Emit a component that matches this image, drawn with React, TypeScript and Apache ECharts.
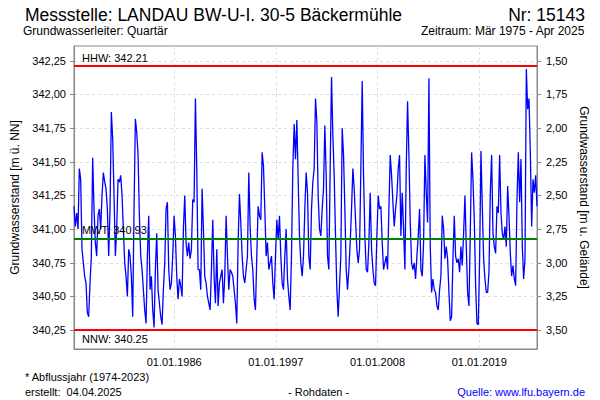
import React, { useEffect, useRef } from "react";
import * as echarts from "echarts";

const TITLE = "Messstelle: LANDAU BW-U-I. 30-5 Bäckermühle";
const STATION_NO = "Nr: 15143";
const AQUIFER = "Grundwasserleiter: Quartär";
const PERIOD = "Zeitraum: Mär 1975 - Apr 2025";
const FOOT_NOTE = "* Abflussjahr (1974-2023)";
const CREATED = "erstellt:  04.04.2025";
const RAW = "- Rohdaten -";
const SOURCE = "Quelle: www.lfu.bayern.de";
const Y_NAME_LEFT = "Grundwasserstand [m ü. NN]";
const Y_NAME_RIGHT = "Grundwasserstand [m u. Gelände]";

const START = [1975, 2, 1];
const END = [2025, 3, 1];
const xTickYears = [1986, 1997, 2008, 2019];
const levelTicks = [340.25, 340.5, 340.75, 341.0, 341.25, 341.5, 341.75, 342.0, 342.25];
const depthTicks = [1.5, 1.75, 2.0, 2.25, 2.5, 2.75, 3.0, 3.25, 3.5];
const GROUND = 343.75;
const LEVEL_MIN = 340.11;
const LEVEL_MAX = 342.36;
const HHW = 342.21;
const MWT = 340.93;
const NNW = 340.25;

const levels = [
  341.17, 341.02, 341.12, 341.0, 341.45, 341.37, 340.85, 340.75, 340.65, 340.6,
  340.38, 340.35, 340.6, 340.8, 341.53, 341.15, 340.9, 340.8, 341.1, 341.15,
  341.0, 341.25, 341.42, 341.35, 341.3, 341.15, 340.8, 341.15, 341.87, 341.67,
  341.25, 340.8, 341.0, 341.37, 341.35, 341.4, 341.25, 341.0, 340.75, 340.65,
  340.5, 340.85, 340.8, 340.65, 340.35, 341.15, 341.82, 341.72, 341.55, 341.1,
  340.8, 340.7, 340.55, 340.4, 340.3, 340.8, 341.1, 340.55, 340.65, 340.4,
  340.27, 340.7, 340.97, 340.55, 340.45, 340.35, 340.29, 340.55, 340.75, 341.15,
  341.2, 340.7, 340.55, 340.6, 340.8, 341.1, 340.95, 340.65, 340.48, 340.63,
  340.58, 340.5, 341.0, 341.25, 340.9, 340.8, 340.9, 340.78,
  340.85, 341.22, 341.2, 341.97, 341.45, 340.7, 340.7, 340.55, 341.3, 341.0,
  340.65, 340.6, 340.5, 340.45, 340.4, 340.7, 341.07, 340.65, 340.45, 340.85,
  340.43, 340.6, 340.65, 340.7, 340.45, 340.65, 341.1, 340.8, 340.55, 340.7,
  340.68, 340.65, 340.55, 340.45, 340.3, 340.9, 341.26, 341.05, 340.8, 340.65,
  340.6, 340.7, 340.8, 341.42, 341.02, 340.8, 340.7, 340.48, 340.4, 340.8,
  341.17, 341.1, 341.07, 341.57, 341.47, 341.15, 340.8, 340.9, 340.7, 340.75,
  340.8, 340.6, 340.48, 340.8, 341.07, 340.92, 341.1, 340.8, 340.6, 340.55,
  340.8, 341.0, 340.63, 340.5, 340.4, 340.8, 341.45, 341.78, 341.52, 341.81,
  341.37, 340.95, 340.75, 340.65, 340.8, 341.15, 341.42, 341.27,
  340.8, 340.7, 341.15, 341.35, 341.45, 341.97, 341.8, 341.25, 341.0, 340.95,
  341.15, 341.3, 341.77, 341.4, 340.8, 340.7, 341.45, 342.13, 341.7, 341.4,
  340.95, 340.55, 340.35, 340.58, 340.8, 341.75, 341.55, 341.15, 340.7, 340.55,
  340.7, 340.9, 341.15, 341.45, 341.3, 341.07, 340.85, 340.75, 340.85, 341.45,
  342.1, 341.4, 340.95, 340.7, 340.68, 340.9, 341.27, 340.85, 340.7, 340.6,
  340.58, 340.95, 341.25, 341.15, 341.17, 340.9, 340.7, 340.75, 340.8, 340.7,
  341.15, 341.55, 341.4, 341.2, 341.02, 341.15, 341.25, 341.45, 341.55, 340.95,
  341.27, 341.0, 340.7, 341.45, 341.95, 341.55, 341.05, 340.75, 340.7, 340.75,
  340.63, 340.8, 340.95, 341.15, 340.7, 340.65, 340.9,
  341.55, 341.27, 341.05, 342.12, 340.87, 340.53, 340.63, 340.55, 340.53, 340.43,
  340.4, 340.55, 340.65, 341.1, 341.0, 340.78, 340.87, 340.78, 340.53, 340.32,
  340.35, 340.78, 341.1, 340.8, 340.75, 340.78, 340.68, 340.87, 340.73, 340.97,
  341.25, 340.87, 340.53, 340.43, 340.97, 341.57, 341.37, 341.07, 340.58, 340.3,
  340.29, 340.78, 341.58, 341.17, 340.78, 340.63, 340.53, 340.53, 340.68, 341.27,
  341.55, 340.97, 340.87, 340.82, 341.17, 341.12, 341.55, 341.12, 340.97, 340.92,
  341.02, 340.87, 341.32, 341.1, 340.82, 340.65, 340.73, 340.63, 340.58, 341.22,
  341.57, 341.2, 341.52, 340.87, 340.63, 340.78, 342.19, 341.89, 341.97, 341.57,
  341.02, 341.37, 341.27, 341.4, 341.17,
];

const FONT = "Liberation Sans, Arial, sans-serif";

function fmtDate(v: number) {
  const d = new Date(v);
  const dd = String(d.getDate()).padStart(2, "0");
  const mm = String(d.getMonth() + 1).padStart(2, "0");
  return `${dd}.${mm}.${d.getFullYear()}`;
}

export default function App() {
  const ref = useRef<HTMLDivElement>(null);
  useEffect(() => {
    if (!ref.current) return;
    const chart = echarts.init(ref.current, null, { renderer: "svg" });
    const t0 = new Date(START[0], START[1], START[2]).getTime();
    const t1 = new Date(END[0], END[1], END[2]).getTime();
    const step = (t1 - t0) / (levels.length - 1);
    const data = levels.map((v, i) => [t0 + i * step, v]);
    const xTicks = xTickYears.map((y) => new Date(y, 0, 1).getTime());
    const lbl = (v: number) => v.toFixed(2).replace(".", ",");
    const txt = (fontSize: number, color = "#000") => ({ fontSize, fontWeight: "normal", color, fontFamily: FONT });

    chart.setOption({
      animation: false,
      textStyle: { fontFamily: FONT },
      title: [
        { text: TITLE, left: 20, top: 1, textStyle: txt(17.5) },
        { text: STATION_NO, right: 10, top: 1, textStyle: txt(17.5) },
        { text: AQUIFER, left: 18, top: 20, textStyle: txt(12) },
        { text: PERIOD, right: 10, top: 20, textStyle: txt(12) },
        { text: FOOT_NOTE, left: 20, top: 366, textStyle: txt(11) },
        { text: CREATED, left: 20, top: 381, textStyle: txt(11) },
        { text: RAW, left: 283, top: 381, textStyle: txt(11) },
        { text: SOURCE, right: 10, top: 381, textStyle: txt(11, "#0000ff") },
      ],
      grid: {
        left: 74, right: 63, top: 46, bottom: 51,
        show: true, borderColor: "#888", borderWidth: 1, backgroundColor: "#fff",
      },
      xAxis: {
        type: "value",
        min: t0, max: t1,
        axisLine: { show: true, lineStyle: { color: "#888" } },
        axisTick: { show: false, customValues: xTicks },
        axisLabel: { customValues: xTicks, formatter: (v: number) => fmtDate(v), fontSize: 11, color: "#000", margin: 7, fontFamily: FONT },
        splitLine: { show: true, lineStyle: { color: "#ddd", type: [3, 3] } },
      },
      yAxis: [
        {
          type: "value", min: LEVEL_MIN, max: LEVEL_MAX, position: "left",
          name: Y_NAME_LEFT, nameLocation: "middle", nameGap: 44, nameRotate: 90,
          nameTextStyle: { fontSize: 12, color: "#000", fontFamily: FONT },
          axisLine: { show: true, lineStyle: { color: "#888" } },
          axisTick: { show: true, length: 4, customValues: levelTicks, lineStyle: { color: "#888" } },
          axisLabel: { customValues: levelTicks, formatter: lbl, fontSize: 11, color: "#000", margin: 8, fontFamily: FONT },
          splitLine: { show: true, lineStyle: { color: "#ddd", type: [3, 3] } },
        },
        {
          type: "value", min: GROUND - LEVEL_MAX, max: GROUND - LEVEL_MIN, inverse: true, position: "right",
          name: Y_NAME_RIGHT, nameLocation: "middle", nameGap: 33, nameRotate: -90,
          nameTextStyle: { fontSize: 12, color: "#000", fontFamily: FONT },
          axisLine: { show: true, lineStyle: { color: "#888" } },
          axisTick: { show: true, length: 4, customValues: depthTicks, lineStyle: { color: "#888" } },
          axisLabel: { customValues: depthTicks, formatter: lbl, fontSize: 11, color: "#000", margin: 9, fontFamily: FONT },
          splitLine: { show: false },
        },
      ],
      series: [
        {
          type: "line",
          data,
          yAxisIndex: 0,
          symbol: "none",
          lineStyle: { color: "#0000ff", width: 1.3 },
          markLine: {
            silent: true,
            symbol: "none",
            animation: false,
            data: [
              { yAxis: HHW, lineStyle: { color: "#ff0000", width: 2, type: "solid" }, label: { formatter: `HHW: ${HHW.toFixed(2)}`, position: "insideStartTop" } },
              { yAxis: MWT, lineStyle: { color: "#008000", width: 2, type: "solid" }, label: { formatter: `MWT: ${MWT.toFixed(2)}`, position: "insideStartTop" } },
              { yAxis: NNW, lineStyle: { color: "#ff0000", width: 2, type: "solid" }, label: { formatter: `NNW: ${NNW.toFixed(2)}`, position: "insideStartBottom" } },
            ],
            label: { fontSize: 11, color: "#000", fontFamily: FONT, distance: [8, 3] },
          },
        },
      ],
    });
    return () => chart.dispose();
  }, []);
  return <div ref={ref} style={{ width: 600, height: 400, position: "absolute", left: 0, top: 0 }} />;
}
